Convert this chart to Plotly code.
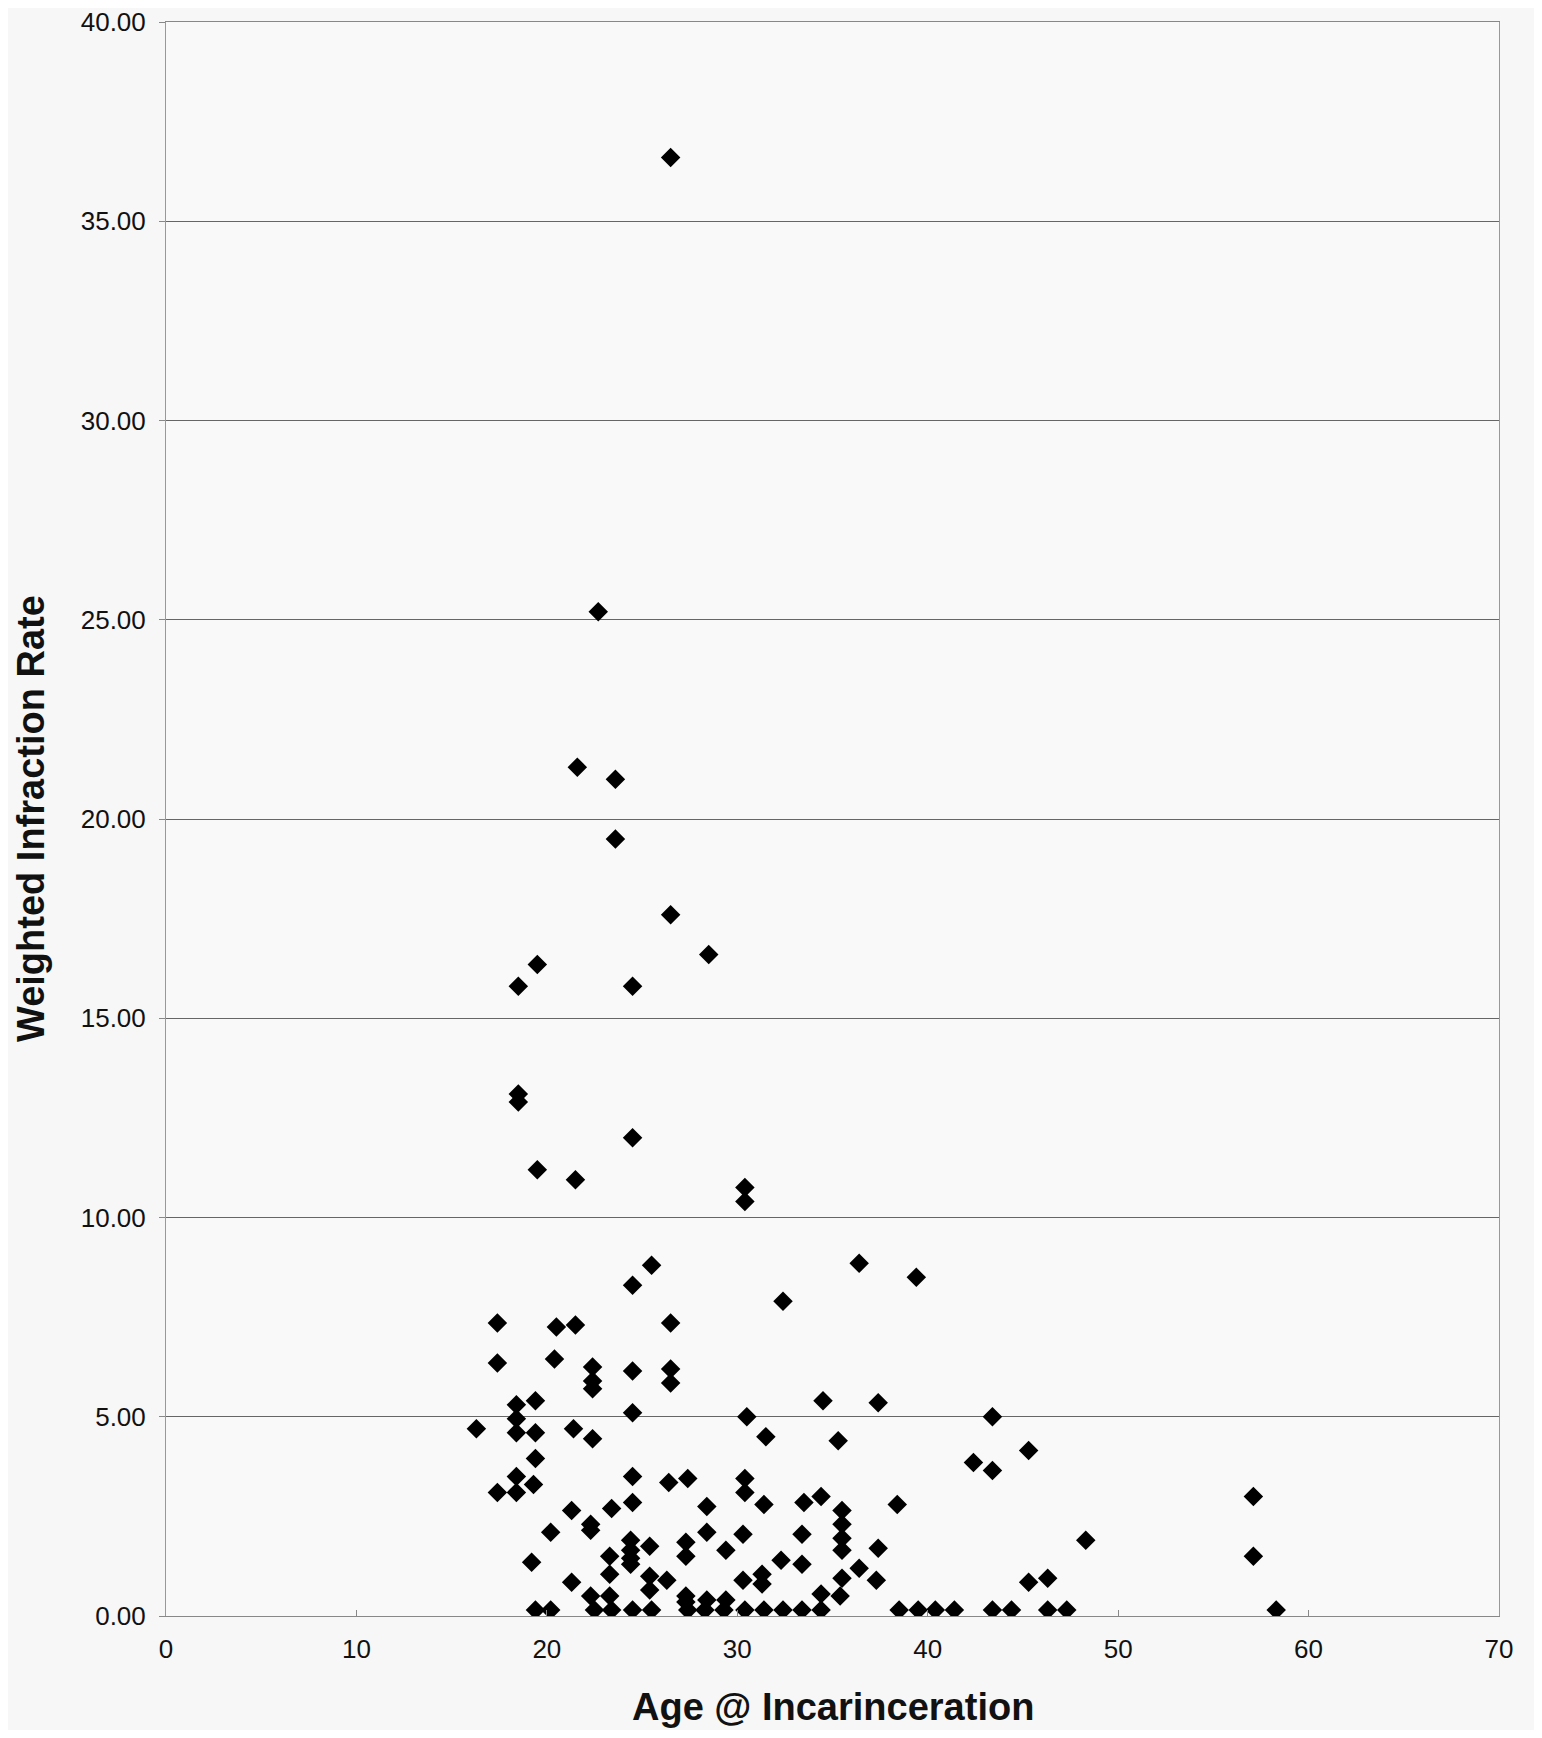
import plotly.graph_objects as go

# Age at incarceration (x) and weighted infraction rate (y)
age = [
    26.5, 22.7, 21.6, 23.6, 23.6, 26.5, 28.5, 18.5, 19.5, 24.5,
    18.5, 18.5, 24.5, 19.5, 21.5, 30.4, 30.4, 25.5, 36.4, 39.4,
    24.5, 32.4, 17.4, 20.5, 21.5, 26.5, 17.4, 20.4, 22.4, 22.4,
    22.4, 24.5, 26.5, 26.5, 18.4, 18.4, 18.4, 19.4, 24.5, 16.3,
    19.4, 21.4, 22.4, 19.4, 30.5, 31.5, 34.5, 37.4, 35.3, 43.4,
    45.3, 42.4, 43.4, 18.4, 17.4, 18.4, 19.3, 24.5, 26.4, 27.4,
    30.4, 30.4, 21.3, 22.3, 22.3, 23.4, 24.5, 28.4, 31.4, 33.5,
    34.4, 35.5, 35.5, 35.5, 35.5, 38.4, 57.1, 20.2, 28.4, 30.3,
    33.4, 24.4, 24.4, 24.4, 24.4, 25.4, 27.3, 27.3, 29.4, 37.4,
    48.3, 57.1, 19.2, 23.3, 23.3, 32.3, 33.4, 36.4, 21.3, 25.4,
    25.4, 26.3, 30.3, 31.3, 31.3, 35.5, 37.3, 45.3, 46.3, 22.3,
    23.3, 27.3, 27.3, 28.4, 29.4, 34.4, 35.4,
    19.4, 20.2, 22.5, 23.4, 24.5, 25.5, 27.4, 28.3, 29.3, 30.4,
    31.4, 32.4, 33.4, 34.4, 38.5, 39.5, 40.4, 41.4, 43.4, 44.4,
    46.3, 47.3, 58.3,
]
rate = [
    36.6, 25.2, 21.3, 21.0, 19.5, 17.6, 16.6, 15.8, 16.35, 15.8,
    13.1, 12.9, 12.0, 11.2, 10.95, 10.75, 10.4, 8.8, 8.85, 8.5,
    8.3, 7.9, 7.35, 7.25, 7.3, 7.35, 6.35, 6.45, 6.25, 5.9,
    5.7, 6.15, 6.2, 5.85, 5.3, 4.95, 4.6, 5.4, 5.1, 4.7,
    4.6, 4.7, 4.45, 3.95, 5.0, 4.5, 5.4, 5.35, 4.4, 5.0,
    4.15, 3.85, 3.65, 3.5, 3.1, 3.1, 3.3, 3.5, 3.35, 3.45,
    3.45, 3.1, 2.65, 2.3, 2.15, 2.7, 2.85, 2.75, 2.8, 2.85,
    3.0, 2.65, 2.3, 1.95, 1.65, 2.8, 3.0, 2.1, 2.1, 2.05,
    2.05, 1.9, 1.65, 1.45, 1.3, 1.75, 1.85, 1.5, 1.65, 1.7,
    1.9, 1.5, 1.35, 1.5, 1.05, 1.4, 1.3, 1.2, 0.85, 1.0,
    0.65, 0.9, 0.9, 1.05, 0.8, 0.95, 0.9, 0.85, 0.95, 0.5,
    0.5, 0.5, 0.35, 0.4, 0.4, 0.55, 0.5,
    0.15, 0.15, 0.15, 0.15, 0.15, 0.15, 0.15, 0.15, 0.15, 0.15,
    0.15, 0.15, 0.15, 0.15, 0.15, 0.15, 0.15, 0.15, 0.15, 0.15,
    0.15, 0.15, 0.15,
]

x_title = "Age @ Incarinceration"
y_title = "Weighted Infraction Rate"

fig = go.Figure()
fig.add_trace(go.Scatter(
    x=age, y=rate, mode="markers",
    marker=dict(symbol="diamond", size=15, color="black",
                line=dict(width=0)),
    showlegend=False,
))

font_family = "Liberation Sans, Arial, sans-serif"
fig.update_layout(
    width=1526, height=1722,
    paper_bgcolor="#f7f7f7",
    plot_bgcolor="#f9f9f9",
    margin=dict(l=158, r=35, t=14, b=114),
    font=dict(family=font_family, color="#111"),
    xaxis=dict(
        range=[0, 70], dtick=10, tick0=0,
        showgrid=False, zeroline=False, automargin=False,
        showline=True, linecolor="#888", linewidth=1, mirror=True,
        ticks="inside", ticklen=6, tickcolor="#888",
        tickfont=dict(size=26),
        ticklabelstandoff=10, ticklabeloverflow="allow",
    ),
    yaxis=dict(
        range=[0, 40], dtick=5, tick0=0, tickformat=".2f",
        showgrid=True, gridcolor="#666", gridwidth=1,
        zeroline=False, automargin=False,
        showline=True, linecolor="#999", linewidth=1, mirror=True,
        ticks="outside", ticklen=6, tickcolor="#888",
        tickfont=dict(size=26),
        ticklabelstandoff=8, ticklabeloverflow="allow",
    ),
    annotations=[
        dict(text="<b>" + x_title + "</b>", xref="paper", yref="paper",
             x=0.5, y=0, xanchor="center", yanchor="middle", yshift=-91,
             showarrow=False, font=dict(size=38)),
        dict(text="<b>" + y_title + "</b>", xref="paper", yref="paper",
             x=0, y=0.5, xanchor="center", yanchor="middle", xshift=-135,
             textangle=-90, showarrow=False, font=dict(size=38)),
    ],
)

fig.write_html("out.html")
